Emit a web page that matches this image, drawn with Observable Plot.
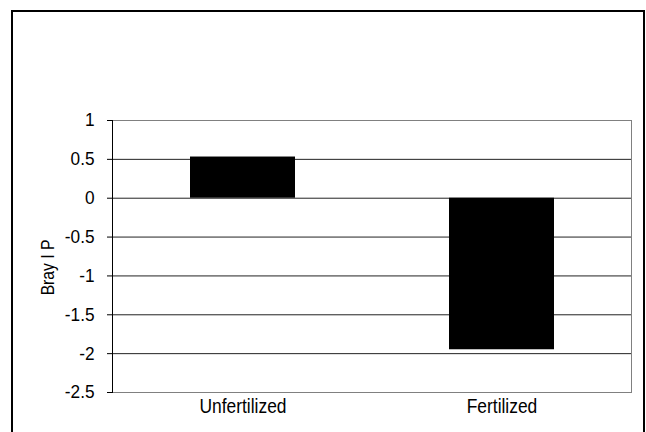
<!DOCTYPE html>
<html>
<head>
<meta charset="utf-8">
<script src="https://cdn.jsdelivr.net/npm/d3@7"></script>
<script src="https://cdn.jsdelivr.net/npm/@observablehq/plot@0.6"></script>
<style>
  html, body { margin: 0; padding: 0; background: #fff; overflow: hidden; }
  #wrap { position: relative; width: 646px; height: 432px; overflow: hidden; }
  #chart { position: absolute; left: 0; top: 0; }
  #border { position: absolute; left: 11px; top: 10px; width: 630px; height: 600px; border: 2px solid #000; pointer-events: none; }
</style>
</head>
<body>
<div id="wrap">
  <div id="chart"></div>
  <div id="border"></div>
</div>
<script>
// Bray I P change by treatment
const categories = ["Unfertilized", "Fertilized"];
const brayP = [0.53, -1.95];
const yTicks = [1, 0.5, 0, -0.5, -1, -1.5, -2, -2.5];
const yTitle = "Bray I P";

// horizontal squeeze applied to the labels
const CONDENSE = 0.87;
const CONDENSE_TICKS = 0.93;

const data = categories.map((c, i) => ({category: c, value: brayP[i]}));

const chart = Plot.plot({
  width: 646,
  height: 432,
  marginLeft: 112,
  marginRight: 15,
  marginTop: 120,
  marginBottom: 40,
  style: {
    fontFamily: "'Liberation Sans', Arial, sans-serif",
    fontSize: "18px",
    color: "#000",
    background: "transparent"
  },
  x: {domain: categories, paddingInner: 0.595, paddingOuter: 0.2975, axis: null, label: null},
  y: {domain: [-2.5, 1], axis: null, label: null},
  marks: [
    Plot.gridY(yTicks, {stroke: "#222", strokeOpacity: 1}),
    Plot.frame({stroke: "#808080"}),
    Plot.barY(data, {x: "category", y: "value", fill: "#000"}),
    Plot.frame({anchor: "left", stroke: "#000"}),
    Plot.axisY(yTicks, {
      tickSize: 5,
      tickPadding: 13,
      tickFormat: d => String(d),
      fontSize: 18.5,
      className: "ticklabels",
      stroke: "#000"
    }),
    Plot.axisX({
      tickSize: 0,
      tickPadding: 6,
      fontSize: 20,
      className: "condensed",
      label: null
    }),
    Plot.text([yTitle], {
      frameAnchor: "left",
      textAnchor: "middle",
      dx: -64,
      dy: 11,
      rotate: -90,
      fontSize: 18,
      className: "condensed"
    })
  ]
});
document.getElementById("chart").appendChild(chart);

// squeeze the glyphs of a label group
function condense(selector, factor) {
  chart.querySelectorAll(selector).forEach(t => {
    const w = t.getComputedTextLength();
    t.setAttribute("textLength", (w * factor).toFixed(1));
    t.setAttribute("lengthAdjust", "spacingAndGlyphs");
  });
}
condense(".condensed text", CONDENSE);
condense(".ticklabels text", CONDENSE_TICKS);
</script>
</body>
</html>
